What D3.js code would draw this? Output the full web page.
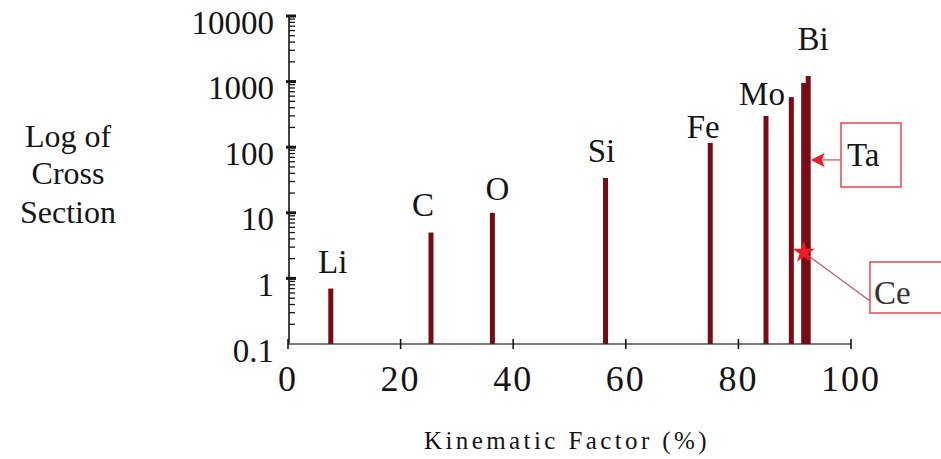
<!DOCTYPE html>
<html>
<head>
<meta charset="utf-8">
<script src="https://cdn.jsdelivr.net/npm/d3@7"></script>
<style>
  html, body { margin: 0; padding: 0; background: #fff; }
  svg { display: block; }
</style>
</head>
<body>
<svg id="chart" width="941" height="459" font-family="'Liberation Serif', 'Times New Roman', Times, 'DejaVu Serif', serif"></svg>
<script>
// Elements and their backscattering kinematic factor (%) and cross section
const elements   = ["Li", "C", "O", "Si", "Fe", "Mo", "Ce", "Ta", "Bi"];
const kinematic  = [7.6, 25.4, 36.3, 56.4, 75.0, 84.9, 89.4, 91.6, 92.4];
const crossSect  = [0.7, 5, 10, 34, 116, 300, 580, 950, 1220];
const xTicks     = [0, 20, 40, 60, 80, 100];
const yTicks     = [0.1, 1, 10, 100, 1000, 10000];
const yTickText  = ["0.1", "1", "10", "100", "1000", "10000"];
// Elements that get a separate boxed callout instead of a top label
const callouts   = ["Ta", "Ce"];

const svg = d3.select("#chart");
const x = d3.scaleLinear().domain([0, 100]).range([288, 851]);
const y = d3.scaleLog().domain([0.1, 10000]).range([344, 16]);

const ink = "#151515";
const barColor = "#7a0a14";
const calloutColor = "#e8505e";

// label nudges relative to each bar top (px)
const labelNudge = {
  Li: [2, -16], C: [-8, -17], O: [5, -13], Si: [-4, -16],
  Fe: [-7, -5], Mo: [-4, -11], Bi: [5, -26]
};

// ---- y axis ----
const yAxis = svg.append("g");
yAxis.append("line")
  .attr("x1", 289).attr("x2", 289)
  .attr("y1", y(10000)).attr("y2", y(0.1))
  .attr("stroke", ink).attr("stroke-width", 1.6);

const minor = [];
for (let d = 0.1; d < 10000; d *= 10) {
  for (let m = 2; m <= 9; m++) minor.push(+(d * m).toPrecision(3));
}
yAxis.selectAll("line.minor").data(minor).join("line")
  .attr("class", "minor")
  .attr("x1", 289).attr("x2", 295)
  .attr("y1", d => y(d)).attr("y2", d => y(d))
  .attr("stroke", ink).attr("stroke-width", 1.3);

yAxis.selectAll("line.major").data(yTicks.slice(1)).join("line")
  .attr("class", "major")
  .attr("x1", 286).attr("x2", 296)
  .attr("y1", d => y(d)).attr("y2", d => y(d))
  .attr("stroke", ink).attr("stroke-width", 3);

yAxis.selectAll("text").data(yTicks).join("text")
  .attr("x", 274)
  .attr("y", d => y(d) + 6)
  .attr("dy", "0.35em")
  .attr("text-anchor", "end")
  .attr("font-size", 33)
  .attr("fill", ink)
  .text((d, i) => yTickText[i]);

// ---- x axis ----
const xAxis = svg.append("g");
xAxis.append("line")
  .attr("x1", x(0)).attr("x2", x(100))
  .attr("y1", y(0.1)).attr("y2", y(0.1))
  .attr("stroke", "#7a7a7a").attr("stroke-width", 1.8);

xAxis.selectAll("line.tick").data(xTicks).join("line")
  .attr("class", "tick")
  .attr("x1", d => x(d)).attr("x2", d => x(d))
  .attr("y1", y(0.1) - 5).attr("y2", y(0.1) + 5)
  .attr("stroke", ink).attr("stroke-width", 1.6);

xAxis.selectAll("text").data(xTicks).join("text")
  .attr("x", d => x(d))
  .attr("y", 391)
  .attr("text-anchor", "middle")
  .attr("font-size", 36)
  .attr("letter-spacing", 2)
  .attr("fill", ink)
  .text(d => d);

// ---- bars ----
const rows = elements.map((e, i) => ({ e, k: kinematic[i], v: crossSect[i] }));
const barW = 5;

svg.append("g").selectAll("rect").data(rows).join("rect")
  .attr("x", d => x(d.k) - barW / 2)
  .attr("y", d => y(d.v))
  .attr("width", barW)
  .attr("height", d => y(0.1) - y(d.v))
  .attr("fill", barColor);

// ---- element labels ----
svg.append("g").selectAll("text")
  .data(rows.filter(d => !callouts.includes(d.e)))
  .join("text")
  .attr("x", d => x(d.k) + labelNudge[d.e][0])
  .attr("y", d => y(d.v) + labelNudge[d.e][1])
  .attr("text-anchor", "middle")
  .attr("font-size", 33)
  .attr("fill", ink)
  .text(d => d.e);

// ---- callouts ----
const byName = Object.fromEntries(rows.map(d => [d.e, d]));

// Ta: boxed label with an arrow pointing at the bar
const ta = byName["Ta"];
const taTipX = x(ta.k) + 7, taTipY = y(64);
svg.append("rect")
  .attr("x", 841).attr("y", 123).attr("width", 60).attr("height", 64)
  .attr("fill", "#fff").attr("stroke", calloutColor).attr("stroke-width", 1.6);
svg.append("line")
  .attr("x1", 841).attr("y1", taTipY).attr("x2", taTipX + 10).attr("y2", taTipY)
  .attr("stroke", calloutColor).attr("stroke-width", 1.3);
svg.append("path")
  .attr("d", `M${taTipX},${taTipY} L${taTipX + 14},${taTipY - 7} L${taTipX + 11},${taTipY} L${taTipX + 14},${taTipY + 7} Z`)
  .attr("fill", "#f01a24");
svg.append("text")
  .attr("x", 847).attr("y", 166)
  .attr("font-size", 33)
  .attr("fill", ink)
  .text("Ta");

// Ce: boxed label with a leader to a marker on the bar
const ceX = x(ta.k), ceY = y(2.5);
svg.append("rect")
  .attr("x", 870).attr("y", 262).attr("width", 80).attr("height", 51)
  .attr("fill", "#fff").attr("stroke", calloutColor).attr("stroke-width", 1.6);
svg.append("line")
  .attr("x1", 870).attr("y1", 301).attr("x2", ceX).attr("y2", ceY)
  .attr("stroke", "#c2506a").attr("stroke-width", 1.2);
svg.append("path")
  .attr("transform", `translate(${ceX},${ceY})`)
  .attr("d", d3.symbol(d3.symbolStar, 150)())
  .attr("fill", "#f01a24");
svg.append("text")
  .attr("x", 874).attr("y", 304)
  .attr("font-size", 33)
  .attr("fill", "#333")
  .text("Ce");

// ---- axis titles ----
const yTitle = svg.append("text")
  .attr("text-anchor", "middle")
  .attr("font-size", 32)
  .attr("fill", ink);
[["Log of", 147], ["Cross", 184], ["Section", 223]].forEach(([t, by]) => {
  yTitle.append("tspan").attr("x", 68).attr("y", by).text(t);
});

svg.append("text")
  .attr("x", 567).attr("y", 449)
  .attr("text-anchor", "middle")
  .attr("font-size", 25)
  .attr("letter-spacing", 3.4)
  .attr("fill", ink)
  .text("Kinematic Factor (%)");
</script>
</body>
</html>
